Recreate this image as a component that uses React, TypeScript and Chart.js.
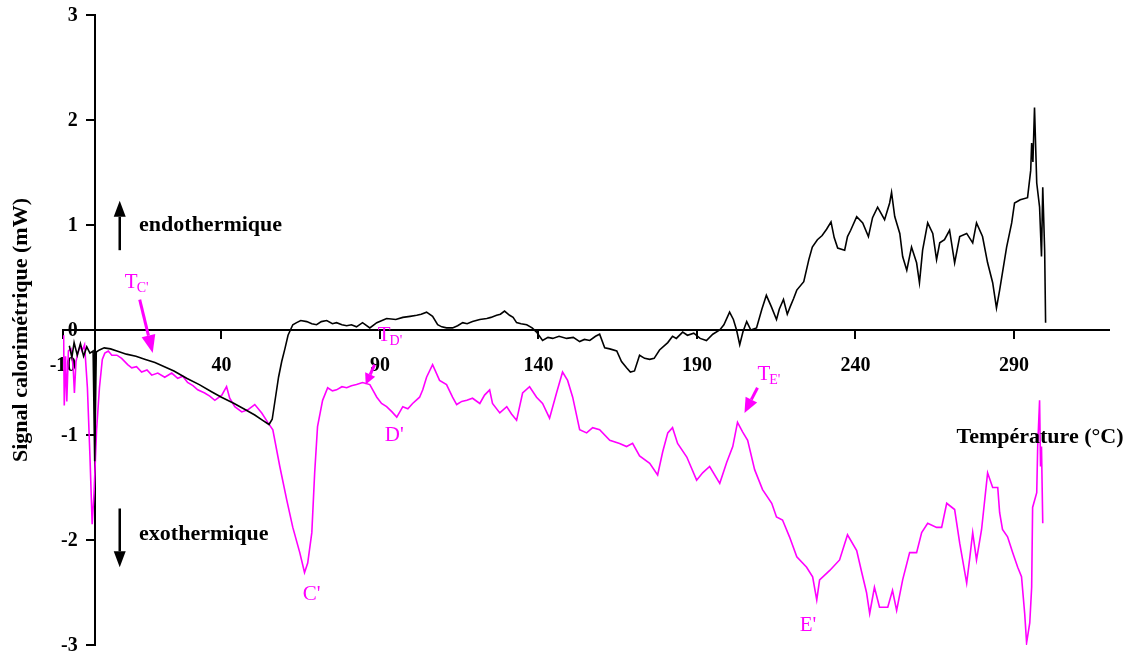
import React, { useEffect, useRef } from "react";
import { Chart, registerables } from "chart.js";

Chart.register(...registerables);

const xTickValues = [-10, 40, 90, 140, 190, 240, 290];
const yTickValues = [-3, -2, -1, 0, 1, 2, 3];

const blackT = [
  -8.0, -7.2, -6.5, -5.5, -4.5, -3.5, -2.5, -1.5, -0.5, 0, 0.5, 1.5, 3, 5, 7, 10, 13, 16, 19, 22, 25, 29, 33, 37, 40, 44, 47,
  50.5, 53, 55, 56, 57, 58, 59, 60, 61, 62.5, 63.7, 65, 66.9, 68.5, 70, 71.5, 73.2, 75, 76.3, 78, 79.5, 81, 82.6, 84.5, 86.8,
  89, 92.1, 95, 97.2, 99.5, 101.6, 103, 104.7, 106.6, 108.2, 109.5, 111, 112.9, 114.5, 116.1, 117.5, 119.2, 121.5, 123.7,
  125, 126.8, 128, 129.3, 130.9, 132, 133.1, 134.5, 136.3, 138, 139.4, 141.3, 143, 144.5, 146.5, 148.9, 151, 153, 154.5,
  156.2, 158, 159.3, 160.9, 162.5, 164.7, 166.2, 167.8, 169, 170.3, 171.9, 173.5, 175.1, 176.5, 178.2, 180.8, 182.3, 183.5,
  185.5, 187, 189, 191, 193, 195, 197.2, 198.5, 200.3, 201.5, 202.5, 203.5, 204.5, 205.7, 207, 208.8, 210.5, 211.9, 213.5,
  215.1, 216, 217.3, 218.5, 219.4, 220.5, 221.5, 223.7, 225.3, 226.4, 228, 229.5, 230.9, 232.3, 233.3, 234.4, 236.6, 237.5,
  238.5, 240.4, 242.3, 244.1, 245.4, 247, 249.2, 250.8, 251.4, 252.4, 254, 254.9, 256.2, 257.7, 259.3, 260.2, 261.2, 262.8,
  264.4, 265.6, 266.6, 268.1, 269.7, 271.3, 272.9, 275.1, 277, 278.2, 280.1, 281.7, 283.3, 284.5, 285.5, 287.7, 289.3,
  290.2, 292, 294.3, 295.3, 295.6, 296, 296.5, 297.2, 298.1, 298.7, 299.1, 299.7, 300,
];
const blackSignal = [
  -0.15, -0.26, -0.12, -0.24, -0.13, -0.25, -0.16, -0.22, -0.2, -1.25, -0.21, -0.19, -0.17, -0.18, -0.2, -0.23, -0.25, -0.28,
  -0.31, -0.35, -0.39, -0.46, -0.52, -0.59, -0.64, -0.7, -0.75, -0.81, -0.86, -0.9, -0.85, -0.65, -0.45, -0.3, -0.18, -0.05,
  0.05, 0.07, 0.09, 0.08, 0.06, 0.05, 0.08, 0.09, 0.06, 0.07, 0.05, 0.04, 0.05, 0.03, 0.07, 0.02, 0.07, 0.11, 0.1, 0.12,
  0.13, 0.14, 0.15, 0.17, 0.13, 0.05, 0.03, 0.02, 0.02, 0.04, 0.07, 0.06, 0.08, 0.1, 0.11, 0.12, 0.14, 0.15, 0.18, 0.14,
  0.12, 0.07, 0.06, 0.05, 0.02, -0.02, -0.1, -0.07, -0.08, -0.06, -0.08, -0.07, -0.11, -0.09, -0.1, -0.06, -0.04, -0.17,
  -0.18, -0.2, -0.3, -0.36, -0.4, -0.39, -0.24, -0.27, -0.28, -0.27, -0.19, -0.12, -0.06, -0.08, -0.02, -0.05, -0.03, -0.08,
  -0.1, -0.04, 0, 0.05, 0.17, 0.1, 0.0, -0.14, -0.02, 0.08, 0.0, 0.02, 0.2, 0.33, 0.22, 0.1, 0.2, 0.29, 0.15, 0.22, 0.3,
  0.38, 0.46, 0.67, 0.79, 0.86, 0.9, 0.96, 1.03, 0.88, 0.78, 0.76, 0.89, 0.95, 1.08, 1.02, 0.89, 1.07, 1.17, 1.05, 1.21,
  1.31, 1.08, 0.92, 0.7, 0.57, 0.79, 0.64, 0.45, 0.76, 1.02, 0.92, 0.67, 0.83, 0.86, 0.95, 0.64, 0.89, 0.92, 0.83, 1.02,
  0.89, 0.64, 0.45, 0.21, 0.38, 0.79, 1.02, 1.21, 1.24, 1.26, 1.52, 1.78, 1.6, 2.12, 1.4, 1.17, 0.7, 1.36, 0.76, 0.07,
];

const magentaT = [
  -9.8, -9.6, -9.2, -8.8, -8.3, -7.5, -6.8, -6.4, -5.9, -5.3, -4.6, -4.0, -3.2, -2.3, -1.5, -0.8, -0.2, 0.6, 1.5, 2.4, 3.2,
  4.3, 5.4, 7, 8.5, 10.4, 11.7, 13.2, 14.8, 16.5, 18, 19.9, 22.1, 24.3, 26.2, 27.8, 29.3, 31, 32.5, 34.7, 36.3, 37.9, 40.1,
  41.6, 42.6, 44.2, 46.4, 48.3, 50.5, 52.7, 54.6, 56.2, 58.4, 60.6, 62.5, 64.7, 66.2, 67.2, 68.5, 69.4, 70.3, 71.9, 73.5,
  75, 76.3, 78, 79.5, 81, 82.6, 84.5, 86.8, 89, 90.5, 92.1, 93.8, 95.3, 97.2, 98.8, 100.3, 102.5, 103.5, 104.7, 106.6,
  108.8, 111, 112.9, 114.2, 115.8, 117.4, 119.2, 121.5, 123, 124.6, 125.5, 127.8, 130, 131.5, 133.1, 135, 137.2, 139.4,
  141.3, 143.5, 145.7, 147.6, 149.2, 150.8, 153, 155.2, 157.1, 159.3, 162.5, 165.6, 167.8, 169.7, 171.9, 175.1, 177.6,
  179.2, 180.8, 182.3, 183.9, 186.8, 189.9, 191.8, 194, 197.2, 199.4, 201.3, 202.8, 204.4, 206, 208.2, 210.7, 213.6, 215.1,
  217, 219.2, 221.5, 224.6, 226.5, 227.8, 228.7, 231.9, 235, 237.5, 240.4, 242, 243.5, 244.5, 246, 247.6, 250.2, 251.7,
  253, 254.9, 257.1, 259.3, 260.9, 262.8, 265.6, 267.2, 268.8, 271.3, 272.9, 275.1, 276, 277, 278.2, 279.8, 281.7, 283.3,
  284.9, 285.5, 286.4, 288, 289.6, 291.2, 292.4, 293.4, 294, 295, 295.6, 295.9, 297.2, 297.5, 298.1, 298.4, 298.7, 299.1,
];
const magentaSignal = [
  -0.05, -0.72, -0.25, -0.68, -0.2, -0.18, -0.35, -0.6, -0.3, -0.22, -0.15, -0.2, -0.14, -0.55, -1.2, -1.85, -1.55, -0.95,
  -0.55, -0.28, -0.22, -0.2, -0.24, -0.24, -0.27, -0.33, -0.36, -0.35, -0.4, -0.38, -0.43, -0.41, -0.45, -0.41, -0.46, -0.44,
  -0.5, -0.53, -0.57, -0.6, -0.63, -0.67, -0.62, -0.54, -0.65, -0.73, -0.78, -0.76, -0.71, -0.79, -0.88, -0.95, -1.3, -1.62,
  -1.88, -2.12, -2.31, -2.22, -1.93, -1.36, -0.92, -0.67, -0.55, -0.58, -0.57, -0.54, -0.55, -0.53, -0.52, -0.5, -0.52,
  -0.64, -0.7, -0.73, -0.78, -0.83, -0.73, -0.75, -0.7, -0.64, -0.57, -0.45, -0.33, -0.48, -0.52, -0.64, -0.71, -0.68,
  -0.67, -0.65, -0.7, -0.62, -0.57, -0.7, -0.79, -0.73, -0.8, -0.86, -0.6, -0.54, -0.64, -0.7, -0.84, -0.6, -0.4, -0.48,
  -0.64, -0.95, -0.98, -0.93, -0.95, -1.05, -1.08, -1.11, -1.08, -1.2, -1.27, -1.38, -1.16, -0.98, -0.93, -1.08, -1.21,
  -1.43, -1.36, -1.3, -1.46, -1.26, -1.11, -0.88, -0.97, -1.05, -1.33, -1.52, -1.65, -1.78, -1.81, -1.97, -2.16, -2.26,
  -2.35, -2.57, -2.38, -2.29, -2.19, -1.95, -2.1, -2.31, -2.5, -2.7, -2.45, -2.64, -2.64, -2.48, -2.67, -2.38, -2.12,
  -2.12, -1.93, -1.84, -1.88, -1.88, -1.65, -1.71, -2.03, -2.41, -2.19, -1.93, -2.19, -1.9, -1.36, -1.5, -1.5, -1.74,
  -1.9, -1.97, -2.12, -2.26, -2.35, -2.7, -2.98, -2.79, -2.45, -1.69, -1.55, -1.11, -0.67, -1.3, -1.11, -1.84,
];

const FONT = '"Liberation Serif", "Times New Roman", serif';
const MAGENTA = "#ff00ff";

function toPoints(xs: number[], ys: number[]) {
  return xs.map((x, i) => ({ x, y: ys[i] }));
}

function drawArrow(
  ctx: CanvasRenderingContext2D,
  x1: number, y1: number, x2: number, y2: number,
  lw: number, headLen: number, headW: number, color: string
) {
  const ang = Math.atan2(y2 - y1, x2 - x1);
  const bx = x2 - headLen * Math.cos(ang);
  const by = y2 - headLen * Math.sin(ang);
  ctx.save();
  ctx.strokeStyle = color;
  ctx.fillStyle = color;
  ctx.lineWidth = lw;
  ctx.beginPath();
  ctx.moveTo(x1, y1);
  ctx.lineTo(bx, by);
  ctx.stroke();
  ctx.beginPath();
  ctx.moveTo(x2, y2);
  ctx.lineTo(bx + (headW / 2) * Math.sin(ang), by - (headW / 2) * Math.cos(ang));
  ctx.lineTo(bx - (headW / 2) * Math.sin(ang), by + (headW / 2) * Math.cos(ang));
  ctx.closePath();
  ctx.fill();
  ctx.restore();
}

const annotationPlugin = {
  id: "dscAnnotations",
  beforeDatasetsDraw(chart: any) {
    // y tick labels, placed left of the y axis (which crosses at x = 0)
    const { ctx } = chart;
    const xs = chart.scales.x;
    const ys = chart.scales.y;
    const ax = xs.getPixelForValue(0);
    ctx.save();
    ctx.fillStyle = "#000";
    ctx.font = `bold 20px ${FONT}`;
    ctx.textAlign = "right";
    ctx.textBaseline = "middle";
    ys.ticks.forEach((t: any) => {
      ctx.fillText(String(t.value), ax - 17, ys.getPixelForValue(t.value) + 1);
    });
    ctx.restore();
  },
  afterDraw(chart: any) {
    const { ctx, chartArea } = chart;
    const xs = chart.scales.x;
    const ys = chart.scales.y;
    const px = (v: number) => xs.getPixelForValue(v);
    const py = (v: number) => ys.getPixelForValue(v);
    ctx.save();

    // y-axis title
    ctx.save();
    ctx.translate(21, (chartArea.top + chartArea.bottom) / 2);
    ctx.rotate(-Math.PI / 2);
    ctx.font = `bold 22px ${FONT}`;
    ctx.fillStyle = "#000";
    ctx.textAlign = "center";
    ctx.textBaseline = "middle";
    ctx.fillText("Signal calorimétrique (mW)", 0, 0);
    ctx.restore();

    // black texts
    ctx.fillStyle = "#000";
    ctx.textAlign = "left";
    ctx.textBaseline = "middle";
    ctx.font = `bold 22px ${FONT}`;
    ctx.fillText("endothermique", px(14), py(1.0));
    ctx.fillText("exothermique", px(14), py(-1.95));
    ctx.fillText("Température (°C)", px(271.9), py(-1.02));

    drawArrow(ctx, px(7.9), py(0.76), px(7.9), py(1.23), 2.5, 16, 12, "#000");
    drawArrow(ctx, px(7.9), py(-1.7), px(7.9), py(-2.26), 2.5, 16, 12, "#000");

    // magenta labels
    ctx.fillStyle = MAGENTA;
    const subLabel = (x: number, y: number, main: string, sub: string) => {
      ctx.font = `21px ${FONT}`;
      ctx.textBaseline = "middle";
      ctx.textAlign = "left";
      ctx.fillText(main, x, y);
      const w = ctx.measureText(main).width;
      ctx.font = `14px ${FONT}`;
      ctx.fillText(sub, x + w - 1, y + 6);
    };
    subLabel(px(9.5), py(0.45), "T", "C'");
    subLabel(px(89.3), py(-0.05), "T", "D'");
    subLabel(px(209.1), py(-0.42), "T", "E'");
    ctx.font = `21px ${FONT}`;
    ctx.fillText("C'", px(65.6), py(-2.52));
    ctx.fillText("D'", px(91.5), py(-1.0));
    ctx.fillText("E'", px(222.4), py(-2.81));

    drawArrow(ctx, px(14.2), py(0.29), px(18.3), py(-0.22), 3, 18, 14, MAGENTA);
    drawArrow(ctx, px(88.3), py(-0.33), px(85.5), py(-0.52), 3, 11, 11, MAGENTA);
    drawArrow(ctx, px(209.1), py(-0.55), px(205.0), py(-0.79), 3, 15, 13, MAGENTA);

    ctx.restore();
  },
};

export default function App() {
  const canvasRef = useRef<HTMLCanvasElement | null>(null);

  useEffect(() => {
    const canvas = canvasRef.current;
    if (!canvas) return;
    const chart = new Chart(canvas, {
      type: "line",
      data: {
        datasets: [
          {
            label: "Signal 1",
            data: toPoints(blackT, blackSignal),
            borderColor: "#000000",
            borderWidth: 1.6,
            pointRadius: 0,
            tension: 0,
            fill: false,
          },
          {
            label: "Signal 2",
            data: toPoints(magentaT, magentaSignal),
            borderColor: MAGENTA,
            borderWidth: 1.6,
            pointRadius: 0,
            tension: 0,
            fill: false,
          },
        ],
      },
      options: {
        animation: false,
        responsive: false,
        maintainAspectRatio: false,
        layout: { padding: { left: 63, right: 24, top: 15, bottom: 14 } },
        plugins: {
          legend: { display: false },
          tooltip: { enabled: false },
          title: { display: false },
        },
        scales: {
          x: {
            type: "linear",
            min: -10,
            max: 320,
            position: { y: 0 } as any,
            afterFit: (scale: any) => {
              scale.height = 0;
            },
            afterBuildTicks: (scale: any) => {
              scale.ticks = xTickValues.map((v) => ({ value: v }));
            },
            grid: { display: true, drawOnChartArea: false, drawTicks: true, tickLength: 8, color: "#000", lineWidth: 2 },
            border: { display: true, color: "#000", width: 2 },
            ticks: {
              color: "#000",
              font: { family: FONT, size: 20, weight: "bold" },
              padding: 16,
              maxRotation: 0,
              autoSkip: false,
            },
          },
          y: {
            type: "linear",
            min: -3,
            max: 3,
            position: { x: 0 } as any,
            afterFit: (scale: any) => {
              scale.width = 0;
            },
            afterBuildTicks: (scale: any) => {
              scale.ticks = yTickValues.map((v) => ({ value: v }));
            },
            grid: { display: true, drawOnChartArea: false, drawTicks: true, tickLength: 8, color: "#000", lineWidth: 2 },
            border: { display: true, color: "#000", width: 2 },
            ticks: {
              display: false,
              autoSkip: false,
            },
          },
        },
      },
      plugins: [annotationPlugin],
    });
    return () => chart.destroy();
  }, []);

  return (
    <div style={{ position: "fixed", left: 0, top: 0, width: 1133, height: 659, background: "#fff" }}>
      <canvas ref={canvasRef} width={1133} height={659} style={{ display: "block" }} />
    </div>
  );
}
